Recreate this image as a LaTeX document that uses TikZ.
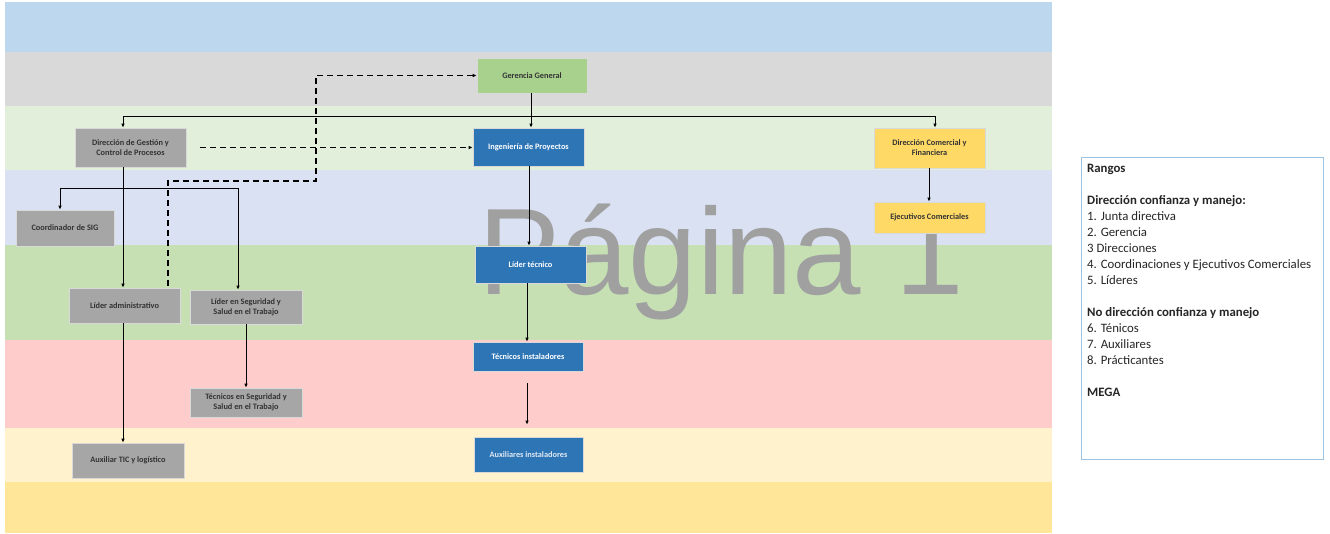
\documentclass[tikz,border=0pt]{standalone}
\usepackage{fontspec}
\setmainfont{Liberation Sans}
\newfontfamily\legendfont{Carlito}
\usetikzlibrary{arrows.meta}
\definecolor{bandA}{HTML}{BDD7EE}
\definecolor{bandB}{HTML}{D9D9D9}
\definecolor{bandC}{HTML}{E2EFDA}
\definecolor{bandD}{HTML}{D9E1F2}
\definecolor{bandE}{HTML}{C6E0B4}
\definecolor{bandF}{HTML}{FFCCCC}
\definecolor{bandG}{HTML}{FFF2CC}
\definecolor{bandH}{HTML}{FFE699}
\definecolor{boxgreen}{HTML}{A9D18E}
\definecolor{boxblue}{HTML}{2E75B6}
\definecolor{boxyellow}{HTML}{FFD966}
\definecolor{boxgray}{HTML}{A6A6A6}
\definecolor{legborder}{HTML}{9DC3E6}
\definecolor{wmark}{HTML}{A0A0A0}
\tikzset{
  orgbox/.style={draw=white!70!gray, line width=0.6pt, align=center, inner sep=1pt,
     font=\legendfont\fontsize{8.3}{10}\selectfont\bfseries, text=black!80},
  greenbox/.style={orgbox, fill=boxgreen},
  bluebox/.style={orgbox, fill=boxblue, text=white},
  yellowbox/.style={orgbox, fill=boxyellow},
  graybox/.style={orgbox, fill=boxgray},
  link/.style={draw=black, line width=1pt, -{Latex[length=4pt,width=3.5pt]}},
  plain/.style={draw=black, line width=1pt},
  dlink/.style={draw=black, line width=1.2pt, dash pattern=on 6pt off 4pt},
}
\begin{document}
\begin{tikzpicture}[x=1pt,y=-1pt]
\useasboundingbox (0,0) rectangle (1330,533);
\fill[white] (0,0) rectangle (1330,533);
% bands
\fill[bandA] (5,2) rectangle (1052,52);
\fill[bandB] (5,52) rectangle (1052,106);
\fill[bandC] (5,106) rectangle (1052,170);
\fill[bandD] (5,170) rectangle (1052,245);
\fill[bandE] (5,245) rectangle (1052,340);
\fill[bandF] (5,340) rectangle (1052,428);
\fill[bandG] (5,428) rectangle (1052,482);
\fill[bandH] (5,482) rectangle (1052,533);
% watermark
\node[anchor=base west, inner sep=0pt, text=wmark, font=\fontsize{123}{123}\selectfont] (wm) at (478,294) {Página 1};
% boxes
\node[greenbox, minimum width=110pt, minimum height=35pt] (gg) at (532,75.5) {Gerencia General};
\node[bluebox, minimum width=111pt, minimum height=38pt] (ip) at (528.5,147) {Ingeniería de Proyectos};
\node[yellowbox, minimum width=111pt, minimum height=40pt] (dc) at (929.5,148) {Dirección Comercial y\\Financiera};
\node[yellowbox, minimum width=111pt, minimum height=31pt] (ec) at (929.5,217.5) {Ejecutivos Comerciales};
\node[graybox, minimum width=111pt, minimum height=39pt] (dg) at (130.5,147.5) {Dirección de Gestión y\\Control de Procesos};
\node[graybox, minimum width=98pt, minimum height=36pt] (cs) at (65,228) {Coordinador de SIG};
\node[graybox, minimum width=111pt, minimum height=35pt] (la) at (124.5,305.5) {Líder administrativo};
\node[graybox, minimum width=112pt, minimum height=34pt] (ls) at (246,307) {Líder en Seguridad y\\Salud en el Trabajo};
\node[graybox, minimum width=112pt, minimum height=29pt] (ts) at (246,402.5) {Técnicos en Seguridad y\\Salud en el Trabajo};
\node[graybox, minimum width=112pt, minimum height=35pt] (at) at (128,460.5) {Auxiliar TIC y logístico};
\node[bluebox, minimum width=111pt, minimum height=37pt] (lt) at (530.5,264.5) {Líder técnico};
\node[bluebox, minimum width=110pt, minimum height=29pt] (ti) at (528,356.5) {Técnicos instaladores};
\node[bluebox, minimum width=109pt, minimum height=35pt, text=white!85!boxblue] (ai) at (528.5,454.5) {Auxiliares instaladores};
% coordinates
\coordinate (hL) at (123,116);
\coordinate (hR) at (935,116);
\coordinate (h2L) at (60,188);
\coordinate (h2R) at (238,188);
% connectors
\draw[link] (gg.south -| 531,0) -- (ip.north -| 531,0);
\draw[plain] (hL) -- (hR);
\draw[link] (hL) -- (dg.north -| hL);
\draw[link] (hR) -- (dc.north -| hR);
\draw[link] (dc.south -| 929,0) -- (ec.north -| 929,0);
\draw[link] (ip.south -| 529,0) -- (lt.north -| 529,0);
\draw[link] (lt.south -| 527,0) -- (ti.north -| 527,0);
\draw[link] ([yshift=-12pt]ti.south -| 527,0) -- ([yshift=12pt]ai.north -| 527,0);
\draw[link] (dg.south -| 123,0) -- (la.north -| 123,0);
\draw[plain] (h2L) -- (h2R);
\draw[link] (h2L) -- (cs.north -| h2L);
\draw[link] (h2R) -- (ls.north -| h2R);
\draw[link] (ls.south -| 246,0) -- (ts.north -| 246,0);
\draw[link] (la.south -| 123,0) -- (at.north -| 123,0);
% dashed
\draw[dlink, -{Latex[length=4pt,width=3.5pt]}] ([xshift=14pt]dg.east) -- (ip.west |- dg.east);
\draw[dlink, {Latex[length=4pt,width=3.5pt]}-] (gg.west) -| (316,181) -| (la.north -| 168,0);
% legend
\node[draw=legborder, line width=0.8pt, fill=white, minimum width=242pt, minimum height=302pt] (lg) at (1202,308) {};
\node[anchor=north west, align=left, inner sep=0pt, font=\legendfont\fontsize{12.8}{16}\selectfont, text=black!85] (lgt) at (1087,164) {%
\textbf{Rangos}\\[16pt]
\textbf{Dirección confianza y manejo:}\\
1. Junta directiva\\
2. Gerencia\\
3 Direcciones\\
4. Coordinaciones y Ejecutivos Comerciales\\
5. Líderes\\[16pt]
\textbf{No dirección confianza y manejo}\\
6. Ténicos\\
7. Auxiliares\\
8. Prácticantes\\[16pt]
\textbf{MEGA}};
\end{tikzpicture}
\end{document}
